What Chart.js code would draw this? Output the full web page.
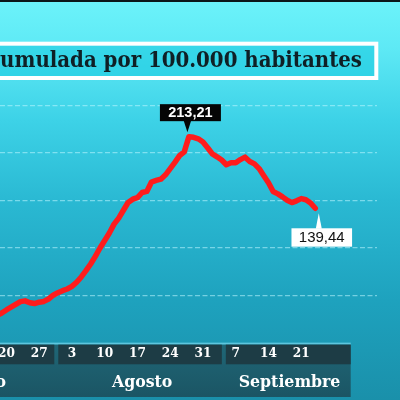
<!DOCTYPE html>
<html>
<head>
<meta charset="utf-8">
<script src="https://cdn.jsdelivr.net/npm/chart.js@4.4.1/dist/chart.umd.min.js"></script>
<style>
html,body{margin:0;padding:0;background:#1a92ac;overflow:hidden}
#wrap{width:400px;height:400px;position:relative}
</style>
</head>
<body>
<div id="wrap"><canvas id="c" width="400" height="400"></canvas></div>
<script>
// Día del primer dato (días contados desde el 0 de julio): 18 de julio
const firstDay = 18;
// Incidencia acumulada por 100.000 habitantes, un valor por día (18 jul – 24 sep)
const incidencia = [
  29.0, 31.6, 34.7, 37.5, 40.4, 43.3, 44.1, 42.2, 41.3, 42.7,
  43.5, 46.0, 49.9, 52.5, 54.6, 56.3, 59.0, 63.2, 68.7, 75.2,
  82.1, 89.9, 98.5, 106.2, 114.0, 123.1, 129.3, 137.4, 145.4, 148.8,
  150.5, 155.7, 156.8, 166.5, 168.1, 169.4, 173.9, 180.3, 186.8, 193.7,
  197.5, 213.21, 212.6, 211.0, 207.8, 201.8, 195.4, 192.5, 189.2, 184.3,
  186.3, 186.3, 189.6, 192.1, 187.7, 185.2, 180.3, 172.9, 165.7, 156.7,
  154.3, 151.2, 147.7, 145.3, 147.1, 149.4, 148.2, 144.9, 139.44
];
// Marcas del eje de días
const dayTickValues = [20, 27, 34, 41, 48, 55, 62, 69, 76, 83];
const dayTickLabels = ['20', '27', '3', '10', '17', '24', '31', '7', '14', '21'];
// Meses
const monthTickValues = [15.5, 49, 80.5];
const monthLabels = ['Julio', 'Agosto', 'Septiembre'];
// Líneas de referencia horizontales
const gridValues = [50, 98.5, 147.5, 196.5, 245];
const titleText = 'Incidencia acumulada por 100.000 habitantes';
const visibleTitlePart = 'umulada por 100.000 habitantes';

const points = incidencia.map((v, i) => ({x: firstDay + i, y: v}));
const fmt = v => v.toFixed(2).replace('.', ',');

const SERIF = "'DejaVu Serif Condensed','DejaVu Serif',serif";

const noPad = s => { s.paddingLeft = 0; s.paddingRight = 0; s.paddingTop = 0; s.paddingBottom = 0; };

const bgPlugin = {
  id: 'bg',
  beforeDraw(chart) {
    const c = chart.ctx, W = chart.width, H = chart.height;
    c.save();
    const g = c.createLinearGradient(0, 0, 0, H);
    g.addColorStop(0, '#6cf3fa');
    g.addColorStop(0.12, '#5ee9f5');
    g.addColorStop(0.3, '#3dd2e7');
    g.addColorStop(0.5, '#2ab9d3');
    g.addColorStop(0.75, '#1ea2be');
    g.addColorStop(1, '#1a90aa');
    c.fillStyle = g;
    c.fillRect(0, 0, W, H);
    c.fillStyle = '#0b1719';
    c.fillRect(0, 0, W, 2);

    // Title box
    c.fillStyle = 'rgba(22,200,222,0.55)';
    c.fillRect(-10, 44, 388, 34);
    c.strokeStyle = '#ffffff';
    c.lineWidth = 4;
    c.strokeRect(-10, 43.7, 386.3, 34.3);
    let size = 24;
    c.font = 'bold ' + size + 'px ' + SERIF;
    const w = c.measureText(visibleTitlePart).width;
    size = size * 362 / w;
    c.font = 'bold ' + size.toFixed(2) + 'px ' + SERIF;
    c.fillStyle = '#0f2026';
    c.textAlign = 'right';
    c.textBaseline = 'alphabetic';
    c.fillText(titleText, 362, 67);

    // Axis bar
    const top = chart.chartArea.bottom;
    c.fillStyle = '#5ec6de';
    c.fillRect(0, top - 1, 350.7, 2);
    const mg = c.createLinearGradient(0, top + 1, 0, 397);
    mg.addColorStop(0, '#1f6676');
    mg.addColorStop(1, '#1b5564');
    c.fillStyle = mg;
    c.fillRect(0, top + 1, 350.7, 397 - top - 1);
    c.fillStyle = '#1d3c45';
    const xs = chart.scales.x;
    const b1 = xs.getPixelForValue(30.66), b2 = xs.getPixelForValue(66.46);
    const edges = [[-10, b1 - 2], [b1 + 2, b2 - 2], [b2 + 2, 350.7]];
    edges.forEach(([a, b]) => c.fillRect(a, top + 1, b - a, 364.3 - top - 1));
    c.restore();
  }
};

const notePlugin = {
  id: 'notes',
  afterDatasetsDraw(chart) {
    const c = chart.ctx;
    const meta = chart.getDatasetMeta(0);
    let iMax = 0;
    incidencia.forEach((v, i) => { if (v > incidencia[iMax]) iMax = i; });
    const iLast = incidencia.length - 1;
    c.save();
    // Peak label (black)
    let p = meta.data[iMax];
    let tipX = p.x - 1.5, tipY = p.y - 4.5;
    let bw = 61, bh = 17, bx = tipX + 3 - bw / 2, by = tipY - 11 - bh;
    c.fillStyle = '#050505';
    c.fillRect(bx, by, bw, bh);
    c.beginPath();
    c.moveTo(tipX - 3.7, by + bh - 0.5);
    c.lineTo(tipX + 3.7, by + bh - 0.5);
    c.lineTo(tipX, tipY);
    c.closePath();
    c.fill();
    c.fillStyle = '#ffffff';
    c.font = 'bold 14.5px "Liberation Sans", Arial, sans-serif';
    c.textAlign = 'center';
    c.textBaseline = 'middle';
    c.fillText(fmt(incidencia[iMax]), bx + bw / 2, by + bh / 2 + 0.5);

    // Last label (white)
    p = meta.data[iLast];
    tipX = p.x + 3.5; tipY = p.y + 5;
    bw = 60.6; bh = 18.4; bx = tipX + 3 - bw / 2; by = tipY + 15;
    c.fillStyle = '#ffffff';
    c.fillRect(bx, by, bw, bh);
    c.beginPath();
    c.moveTo(tipX - 3, by + 0.5);
    c.lineTo(tipX + 3, by + 0.5);
    c.lineTo(tipX, tipY);
    c.closePath();
    c.fill();
    c.fillStyle = '#111111';
    c.font = '15px "Liberation Sans", Arial, sans-serif';
    c.fillText(fmt(incidencia[iLast]), bx + bw / 2, by + bh / 2 + 0.5);
    c.restore();
  }
};

new Chart(document.getElementById('c'), {
  type: 'line',
  data: {
    datasets: [{
      data: points,
      borderColor: '#ff1c1c',
      borderWidth: 5.5,
      pointRadius: 0,
      tension: 0,
      borderJoinStyle: 'round',
      borderCapStyle: 'round',
      fill: false
    }]
  },
  options: {
    responsive: false,
    animation: false,
    events: [],
    layout: {autoPadding: false, padding: {top: 0, left: 0, right: 23, bottom: 0}},
    plugins: {legend: {display: false}, tooltip: {enabled: false}, title: {display: false}},
    scales: {
      x: {
        type: 'linear', position: 'bottom', weight: 0,
        min: 18.63, max: 99.19,
        grid: {display: false, drawTicks: false},
        border: {display: false},
        afterBuildTicks: s => { s.ticks = dayTickValues.map(v => ({value: v})); },
        afterFit: s => { s.height = 20.35; noPad(s); },
        ticks: {
          color: '#ffffff', autoSkip: false, maxRotation: 0, minRotation: 0, padding: 3.5,
          font: {family: SERIF, size: 13.5, weight: 'bold', lineHeight: 1},
          callback: (v, i) => dayTickLabels[i]
        }
      },
      xm: {
        type: 'linear', position: 'bottom', weight: 1,
        min: 18.63, max: 99.19,
        grid: {display: false, drawTicks: false},
        border: {display: false},
        afterBuildTicks: s => { s.ticks = monthTickValues.map(v => ({value: v})); },
        afterFit: s => { s.height = 36; noPad(s); },
        ticks: {
          color: '#ffffff', autoSkip: false, maxRotation: 0, minRotation: 0, padding: 10,
          font: {family: SERIF, size: 17.5, weight: 'bold', lineHeight: 1},
          callback: (v, i) => monthLabels[i]
        }
      },
      y: {
        min: 0, max: 354,
        ticks: {display: false},
        border: {display: false, dash: [5, 2.5]},
        grid: {color: 'rgba(190,245,255,0.55)', lineWidth: 1.2, drawTicks: false},
        afterBuildTicks: s => { s.ticks = gridValues.map(v => ({value: v})); },
        afterFit: s => { s.width = 0; noPad(s); }
      }
    }
  },
  plugins: [bgPlugin, notePlugin]
});
</script>
</body>
</html>
